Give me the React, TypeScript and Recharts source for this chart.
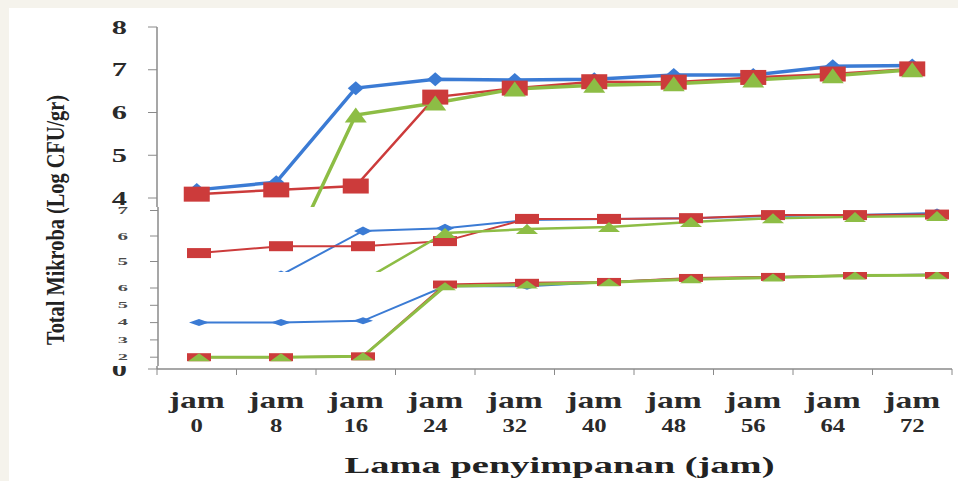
import React from 'react';
import { LineChart, Line, XAxis, YAxis } from 'recharts';

// storage time, hours
const hours = ['0', '8', '16', '24', '32', '40', '48', '56', '64', '72'];

// upper panel (largest scale)
const blueTop = [4.19, 4.37, 6.57, 6.78, 6.76, 6.78, 6.88, 6.88, 7.08, 7.1];
const redTop = [4.09, 4.19, 4.28, 6.36, 6.57, 6.72, 6.71, 6.82, 6.9, 7.02];
const greenTop = [2.0, 2.0, 5.94, 6.22, 6.55, 6.64, 6.67, 6.76, 6.86, 7.0];

// middle strip
const blueMid = [4.4, 4.47, 6.2, 6.3, 6.63, 6.67, 6.7, 6.78, 6.82, 6.9];
const redMid = [5.33, 5.6, 5.6, 5.8, 6.67, 6.67, 6.7, 6.82, 6.82, 6.84];
const greenMid = [4.2, 4.2, 4.25, 6.12, 6.27, 6.35, 6.55, 6.7, 6.75, 6.78];

// lower strip
const blueLow = [4.0, 4.0, 4.1, 6.1, 6.1, 6.35, 6.55, 6.62, 6.72, 6.78];
const redLow = [2.0, 2.0, 2.05, 6.2, 6.3, 6.35, 6.58, 6.64, 6.74, 6.76];
const greenLow = [2.0, 2.0, 2.05, 6.1, 6.2, 6.33, 6.5, 6.6, 6.72, 6.74];

// tick labels that show in each part of the axis
const yTicksTop = [0, 4, 5, 6, 7, 8];
const yTicksMid = [5, 6, 7];
const yTicksLow = [2, 3, 4, 5, 6];
const xBounds = [-0.5, 0.5, 1.5, 2.5, 3.5, 4.5, 5.5, 6.5, 7.5, 8.5, 9.5];

const BLUE = '#3b7bd4';
const RED = '#cc3b3b';
const GREEN = '#8dbd45';
const AXIS = '#8a8a8a';
const SERIF = '"Liberation Serif", "Times New Roman", serif';
const BAND = 79.5;

const toRows = (b: number[], r: number[], g: number[]) =>
  hours.map((h, i) => ({ idx: i, hour: h, blue: b[i], red: r[i], green: g[i] }));

const rowsTop = toRows(blueTop, redTop, greenTop);
const rowsMid = toRows(blueMid, redMid, greenMid);
const rowsLow = toRows(blueLow, redLow, greenLow);

const shapeDot = (kind: string, w: number, h: number, fill: string) => (props: any) => {
  const { cx, cy, index } = props;
  if (cx == null || cy == null) return <g key={index} />;
  if (kind === 'square') {
    return <rect key={index} x={cx - w / 2} y={cy - h / 2} width={w} height={h} fill={fill} />;
  }
  if (kind === 'diamond') {
    return (
      <polygon
        key={index}
        points={`${cx},${cy - h / 2} ${cx + w / 2},${cy} ${cx},${cy + h / 2} ${cx - w / 2},${cy}`}
        fill={fill}
      />
    );
  }
  return (
    <polygon
      key={index}
      points={`${cx},${cy - h / 2} ${cx + w / 2},${cy + h / 2} ${cx - w / 2},${cy + h / 2}`}
      fill={fill}
    />
  );
};

const makeYTick = (size: number, sx: number, sy: number, color: string) => (props: any) => {
  const { x, y, payload } = props;
  return (
    <text
      transform={`translate(${x},${y}) scale(${sx},${sy})`}
      textAnchor="end"
      dominantBaseline="central"
      fontFamily={SERIF}
      fontWeight="bold"
      fontSize={size}
      fill={color}
    >
      {payload.value}
    </text>
  );
};

const HourTick = (props: any) => {
  const { x, y, index } = props;
  if (index >= hours.length) return <g />;
  const cx = x + BAND / 2;
  return (
    <g>
      <text
        transform={`translate(${cx},${y + 31}) scale(1.4,1)`}
        textAnchor="middle"
        fontFamily={SERIF}
        fontWeight="bold"
        fontSize={24}
        fill="#2a2a2a"
      >
        jam
      </text>
      <text
        transform={`translate(${cx},${y + 55}) scale(1.3,1)`}
        textAnchor="middle"
        fontFamily={SERIF}
        fontWeight="bold"
        fontSize={19}
        fill="#2a2a2a"
      >
        {hours[index]}
      </text>
    </g>
  );
};

const XTitle = (props: any) => {
  const { viewBox } = props;
  return (
    <text
      x={viewBox.x + viewBox.width / 2 + 5}
      y={473}
      textAnchor="middle"
      fontFamily={SERIF}
      fontWeight="bold"
      fontSize={23}
      textLength={430}
      lengthAdjust="spacingAndGlyphs"
      fill="#222"
    >
      Lama penyimpanan (jam)
    </text>
  );
};

const YTitle = () => (
  <text
    transform="translate(64,220) rotate(-90)"
    textAnchor="middle"
    fontFamily={SERIF}
    fontWeight="bold"
    fontSize={25}
    textLength={250}
    lengthAdjust="spacingAndGlyphs"
    fill="#222"
  >
    Total Mikroba (Log CFU/gr)
  </text>
);

type Sizes = { lw: number[]; dia: number[]; sq: number[]; tri: number[] };

const seriesLines = (s: Sizes) => [
  <Line
    key="blue"
    dataKey="blue"
    stroke={BLUE}
    strokeWidth={s.lw[0]}
    dot={shapeDot('diamond', s.dia[0], s.dia[1], BLUE)}
    isAnimationActive={false}
  />,
  <Line
    key="red"
    dataKey="red"
    stroke={RED}
    strokeWidth={s.lw[1]}
    dot={shapeDot('square', s.sq[0], s.sq[1], RED)}
    isAnimationActive={false}
  />,
  <Line
    key="green"
    dataKey="green"
    stroke={GREEN}
    strokeWidth={s.lw[2]}
    dot={shapeDot('triangle', s.tri[0], s.tri[1], GREEN)}
    isAnimationActive={false}
  />,
];

const Strip = ({ data, top, bottom, margin, ticks, tick, sizes }: any) => (
  <div
    style={{
      position: 'absolute',
      left: 0,
      top: 0,
      width: 958,
      height: 481,
      overflow: 'hidden',
      clipPath: `inset(${top}px 0px ${481 - bottom}px 100px)`,
      background: '#fff',
    }}
  >
    <LineChart width={1000} height={481} data={data} margin={margin}>
      <XAxis dataKey="idx" type="number" domain={[-0.5, 9.5]} hide />
      <YAxis
        type="number"
        domain={[0, 8]}
        ticks={ticks}
        interval={0}
        width={60}
        tickSize={8}
        tickMargin={22}
        tick={tick}
        axisLine={{ stroke: AXIS, strokeWidth: 1.5 }}
        tickLine={{ stroke: AXIS }}
      />
      {seriesLines(sizes)}
    </LineChart>
  </div>
);

export default function App() {
  return (
    <div
      style={{
        position: 'absolute',
        left: 0,
        top: 0,
        width: 958,
        height: 481,
        background: '#f5f3ec',
        overflow: 'hidden',
      }}
    >
      <div style={{ position: 'absolute', left: 9, top: 8, width: 949, height: 473, background: '#fff' }} />
      <div style={{ position: 'absolute', left: 0, top: 0 }}>
        <LineChart width={958} height={481} data={rowsTop} margin={{ top: 27, right: 6, bottom: 11, left: 97 }}>
          <XAxis
            dataKey="idx"
            type="number"
            domain={[-0.5, 9.5]}
            ticks={xBounds}
            interval={0}
            height={101}
            tickSize={6}
            tick={<HourTick />}
            axisLine={{ stroke: AXIS, strokeWidth: 1.5 }}
            tickLine={{ stroke: AXIS }}
            label={<XTitle />}
          />
          <YAxis
            type="number"
            domain={[0, 8]}
            ticks={yTicksTop}
            interval={0}
            width={60}
            tickSize={9}
            tickMargin={21}
            tick={makeYTick(19, 1.6, 1, '#2a2a2a')}
            axisLine={{ stroke: AXIS, strokeWidth: 1.5 }}
            tickLine={{ stroke: AXIS }}
            label={<YTitle />}
          />
          {seriesLines({ lw: [3.5, 2.5, 3.5], dia: [16, 14], sq: [26, 15], tri: [22, 15] })}
        </LineChart>
      </div>
      <Strip
        data={rowsMid}
        top={207}
        bottom={272}
        margin={{ top: 185, right: 22, bottom: 92, left: 98 }}
        ticks={yTicksMid}
        tick={makeYTick(14, 1.5, 0.8, '#4a4a4a')}
        sizes={{ lw: [2, 2, 2.5], dia: [18, 9], sq: [24, 10], tri: [22, 10] }}
      />
      <Strip
        data={rowsLow}
        top={272}
        bottom={366}
        margin={{ top: 253.4, right: 22, bottom: 89.2, left: 98 }}
        ticks={yTicksLow}
        tick={makeYTick(12, 1.7, 0.65, '#4a4a4a')}
        sizes={{ lw: [2, 2, 3], dia: [20, 7], sq: [24, 8], tri: [22, 8] }}
      />
    </div>
  );
}
